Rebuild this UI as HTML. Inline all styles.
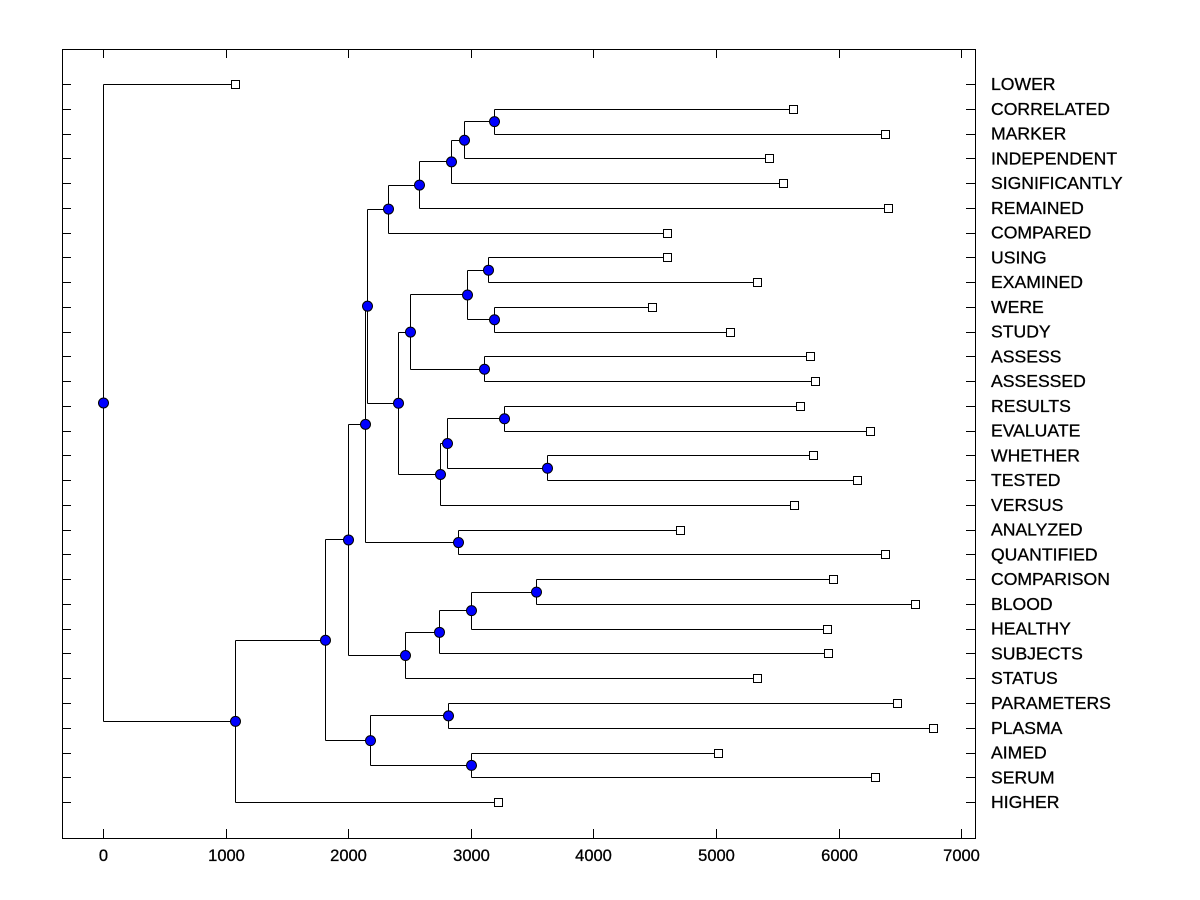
<!DOCTYPE html>
<html><head><meta charset="utf-8"><style>
html,body{margin:0;padding:0;background:#fff;}
svg{display:block;}
text{font-family:"Liberation Sans",Arial,sans-serif;font-size:16.5px;fill:#000;stroke:#000;stroke-width:0.3px;}
text.lab{font-size:17.6px;}
</style></head><body>
<svg id="s" width="1200" height="900" xmlns="http://www.w3.org/2000/svg">
<rect x="62.5" y="49.5" width="913" height="789" fill="none" stroke="#000" stroke-width="1"/>
<g id="g"></g>
</svg>
<script>
const NS="http://www.w3.org/2000/svg";
const g=document.getElementById('g');
function el(t,a,txt){const e=document.createElementNS(NS,t);for(const k in a)e.setAttribute(k,a[k]);if(txt!==undefined)e.textContent=txt;g.appendChild(e);return e;}
const labels=["LOWER","CORRELATED","MARKER","INDEPENDENT","SIGNIFICANTLY","REMAINED","COMPARED","USING","EXAMINED","WERE","STUDY","ASSESS","ASSESSED","RESULTS","EVALUATE","WHETHER","TESTED","VERSUS","ANALYZED","QUANTIFIED","COMPARISON","BLOOD","HEALTHY","SUBJECTS","STATUS","PARAMETERS","PLASMA","AIMED","SERUM","HIGHER"];
const ends=[235,793,885,769,783,888,667,667,757,652,730,810,815,800,870,813,857,794,680,885,833,915,827,828,757,897,933,718,875,498];
const Y=i=>84+24.76*i;
for(let i=0;i<30;i++){
  const y=Math.round(Y(i))+0.5;
  el('line',{x1:62,y1:y,x2:71,y2:y,stroke:'#000'});
  el('line',{x1:966,y1:y,x2:975,y2:y,stroke:'#000'});
  el('text',{x:991,y:Y(i)+6,'class':'lab'},labels[i]);
}
for(let k=0;k<=7;k++){
  const x=Math.round(103+122.6*k)+0.5;
  el('line',{x1:x,y1:49,x2:x,y2:58,stroke:'#000'});
  el('line',{x1:x,y1:829,x2:x,y2:838,stroke:'#000'});
  el('text',{x:x,y:861,'text-anchor':'middle'},String(k*1000));
}
const nodes={};
const leaf=i=>({x:ends[i],y:Y(i),leaf:true});
function N(name,x,a,b){const ca=typeof a==='number'?leaf(a):nodes[a];const cb=typeof b==='number'?leaf(b):nodes[b];nodes[name]={x:x,y:(ca.y+cb.y)/2,c:[ca,cb]};}
N('A',494,1,2);N('B',464,'A',3);N('C',451,'B',4);N('D',419,'C',5);N('E',388,'D',6);
N('F',488,7,8);N('G',494,9,10);N('H',467,'F','G');N('I',484,11,12);N('J',410,'H','I');
N('K',504,13,14);N('L',547,15,16);N('M',447,'K','L');N('NN',440,'M',17);N('O',398,'J','NN');
N('P',367,'E','O');N('Q',458,18,19);N('R',365,'P','Q');
N('S',536,20,21);N('T',471,'S',22);N('U',439,'T',23);N('V',405,'U',24);N('W',348,'R','V');
N('X',448,25,26);N('Yn',471,27,28);N('Z',370,'X','Yn');N('AA',325,'W','Z');N('AB',235,'AA',29);
nodes.root={x:103,y:(Y(0)+nodes.AB.y)/2,c:[leaf(0),nodes.AB]};
const circles=[],squares=[];
for(const k in nodes){const n=nodes[k];
  const y1=Math.round(n.c[0].y)+0.5,y2=Math.round(n.c[1].y)+0.5,x=Math.round(n.x)+0.5;
  el('line',{x1:x,y1:y1,x2:x,y2:y2,stroke:'#000'});
  for(const c of n.c){const cy=Math.round(c.y)+0.5;el('line',{x1:x,y1:cy,x2:Math.round(c.x)+0.5,y2:cy,stroke:'#000'});if(c.leaf)squares.push(c);}
  circles.push(n);
}
for(const s of squares)el('rect',{x:Math.round(s.x)-4+0.5,y:Math.round(s.y)-4+0.5,width:8,height:8,fill:'#fff',stroke:'#000'});
for(const n of circles)el('circle',{cx:n.x+0.5,cy:n.y+0.5,r:5,fill:'#0000ff',stroke:'#000'});
</script>
</body></html>
